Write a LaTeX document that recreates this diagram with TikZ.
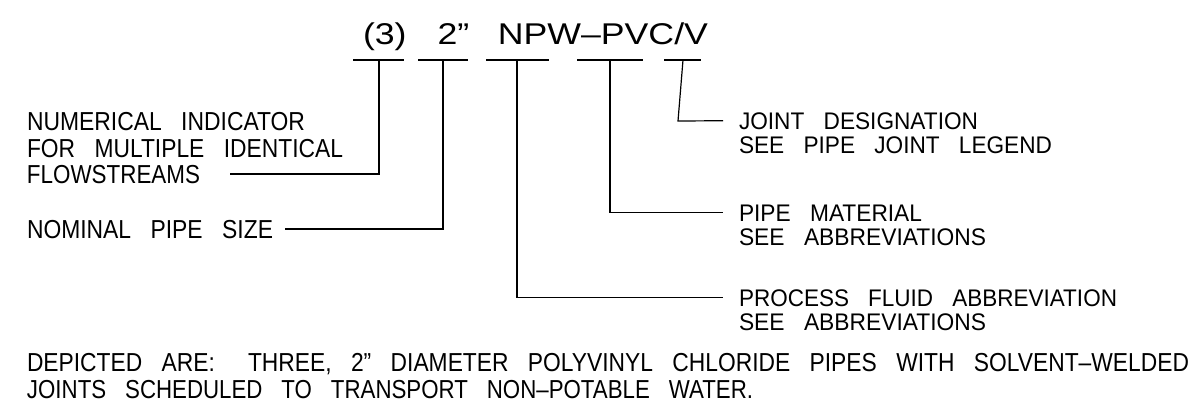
\documentclass[tikz,border=0pt]{standalone}
\usepackage{fontspec}
\usepackage{graphicx}
\setmainfont{Liberation Sans}
\newcommand\cadsize[1]{\fontsize{#1}{#1}\selectfont\spaceskip=0.85em plus 0pt minus 0pt\relax}
\newcommand\fitw[2]{\resizebox{#1pt}{\height}{#2}}
\tikzset{
  lbl/.style={inner sep=0pt, outer sep=0pt, anchor=base west, font=\cadsize{26}},
  rlbl/.style={inner sep=0pt, outer sep=0pt, anchor=base west, font=\cadsize{24}},
  ttl/.style={inner sep=0pt, outer sep=0pt, anchor=base west, font=\cadsize{30}},
  leader/.style={draw=black, line width=1.2pt},
  uline/.style={draw=black, line width=1.2pt}
}
\begin{document}
\begin{tikzpicture}[x=1pt,y=-1pt]
\fill[white] (0,0) rectangle (1194,407);
\useasboundingbox (0,0) rectangle (1194,407);

% title
\node[ttl] (title) at (363,44) {\fitw{345}{(3)\hspace{26pt}2”\hspace{24pt}NPW–PVC/V}};

% underline segments
\coordinate (u1a) at (353,60); \coordinate (u1b) at (404,60); \coordinate (u1m) at (379,60);
\coordinate (u2a) at (418,60); \coordinate (u2b) at (468,60); \coordinate (u2m) at (443,60);
\coordinate (u3a) at (486,60); \coordinate (u3b) at (549,60); \coordinate (u3m) at (517,60);
\coordinate (u4a) at (577,60); \coordinate (u4b) at (643,60); \coordinate (u4m) at (610,60);
\coordinate (u5a) at (664,60); \coordinate (u5b) at (701,60); \coordinate (u5m) at (683,60);
\draw[uline] (u1a) -- (u1b);
\draw[uline] (u2a) -- (u2b);
\draw[uline] (u3a) -- (u3b);
\draw[uline] (u4a) -- (u4b);
\draw[uline] (u5a) -- (u5b);

% left labels
\node[lbl] (num1) at (27,130) {\fitw{278}{NUMERICAL INDICATOR}};
\node[lbl] (num2) at (27,157) {\fitw{316}{FOR MULTIPLE IDENTICAL}};
\node[lbl] (num3) at (27,183) {\fitw{173}{FLOWSTREAMS}};
\node[lbl] (nom)  at (27,238) {\fitw{246}{NOMINAL PIPE SIZE}};

% right labels
\node[rlbl] (jd1) at (739,129) {\fitw{239}{JOINT DESIGNATION}};
\node[rlbl] (jd2) at (739,153) {\fitw{313}{SEE PIPE JOINT LEGEND}};
\node[rlbl] (pm1) at (739,221) {\fitw{183}{PIPE MATERIAL}};
\node[rlbl] (pm2) at (739,245) {\fitw{247}{SEE ABBREVIATIONS}};
\node[rlbl] (pf1) at (739,306) {\fitw{378}{PROCESS FLUID ABBREVIATION}};
\node[rlbl] (pf2) at (739,330) {\fitw{247}{SEE ABBREVIATIONS}};

% bottom description
\node[lbl] (d1) at (27,371) {\fitw{1162}{DEPICTED ARE:\hspace{0.6em} THREE, 2” DIAMETER POLYVINYL CHLORIDE PIPES WITH SOLVENT–WELDED}};
\node[lbl] (d2) at (27,398) {\fitw{726}{JOINTS SCHEDULED TO TRANSPORT NON–POTABLE WATER.}};

% leaders
\draw[leader] (u1m) |- ([xshift=30pt]num3.east);
\draw[leader] (u2m) |- ([xshift=12pt]nom.east);
\draw[leader] (u3m) |- ([xshift=-16pt]pf1.west);
\draw[leader] (u4m) |- ([xshift=-16pt]pm1.west);
\coordinate (j5) at (678,121);
\draw[leader] (u5m) -- (j5) -- ([xshift=-16pt]jd1.west);
\end{tikzpicture}
\end{document}
